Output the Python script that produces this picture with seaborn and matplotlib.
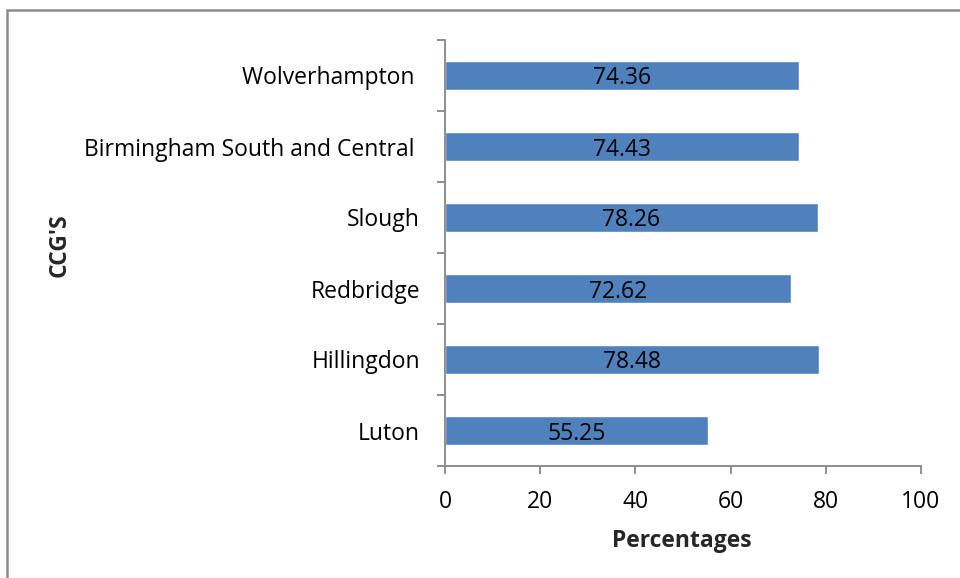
import matplotlib
matplotlib.use("Agg")
import matplotlib.pyplot as plt
import seaborn as sns
import pandas as pd
from matplotlib.patches import Rectangle


CCGS = ["Wolverhampton ", "Birmingham South and Central ", "Slough",
        "Redbridge", "Hillingdon", "Luton"]
PERCENTAGES = [74.36, 74.43, 78.26, 72.62, 78.48, 55.25]
X_TICKS = [0, 20, 40, 60, 80, 100]

BAR_COLOR = "#4F81BD"
AXIS_GRAY = "#868686"
FS = 16.5

sns.set_theme(style="white")
plt.rcParams["font.family"] = ["Open Sans", "DejaVu Sans"]

df = pd.DataFrame({"ccg": CCGS, "pct": PERCENTAGES})

fig = plt.figure(figsize=(9.6, 5.78), dpi=100)
ax = fig.add_axes([445 / 960, 1 - 466 / 578, 476 / 960, 426 / 578])

sns.barplot(data=df, x="pct", y="ccg", order=CCGS, color=BAR_COLOR,
            width=0.4, saturation=1, ax=ax)

ax.set_xlim(0, 100)
ax.set_ylim(len(CCGS) - 0.5, -0.5)
ax.set_xticks(X_TICKS)
ax.set_xticklabels([str(t) for t in X_TICKS], fontsize=FS, color="black")
ax.tick_params(axis="y", which="major", length=0, pad=18, labelsize=FS,
               labelcolor="black")
ax.set_yticks([i - 0.5 for i in range(len(CCGS) + 1)], minor=True)
ax.tick_params(axis="y", which="minor", length=6, width=1.3,
               color=AXIS_GRAY, direction="out", left=True)
ax.tick_params(axis="x", length=6, width=1.3, color=AXIS_GRAY,
               direction="out", bottom=True, pad=11)

for side in ["top", "right"]:
    ax.spines[side].set_visible(False)
for side in ["left", "bottom"]:
    ax.spines[side].set_color(AXIS_GRAY)
    ax.spines[side].set_linewidth(1.3)

ax.set_xlabel("")
ax.set_ylabel("")

for cont in ax.containers:
    txts = ax.bar_label(cont, labels=[f"{v:.2f}" for v in PERCENTAGES],
                        label_type="center", fontsize=FS, color="black")
    for t in txts:
        t.set_va("center_baseline")

fig.text(682 / 960, 1 - 541 / 578, "Percentages", ha="center", va="center",
         fontsize=FS, fontweight="bold")
fig.text(60 / 960, 1 - 245 / 578, "CCG'S", ha="center", va="center",
         rotation=90, fontsize=FS, fontweight="bold")

# outer chart border (runs off the right and bottom edges)
fig.patches.append(Rectangle((7 / 960, -0.05), 1.1, 1 - 10 / 578 + 0.05,
                             transform=fig.transFigure, fill=False,
                             edgecolor="#8c8c8c", linewidth=1.8))

fig.savefig("out.png", dpi=100)
